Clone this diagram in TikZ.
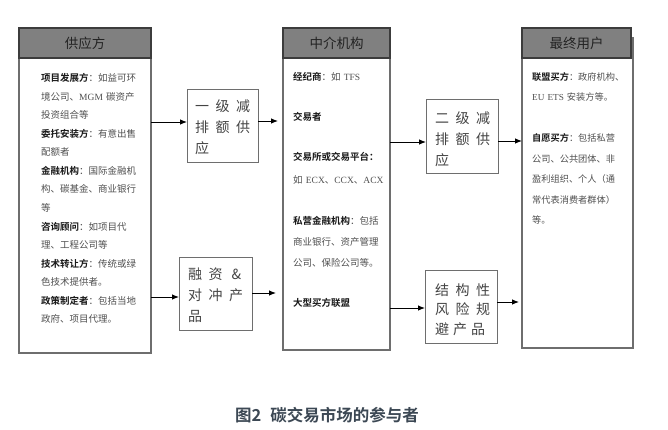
\documentclass[tikz,border=0pt]{standalone}
\usepackage{fontspec}
\setmainfont{Noto Sans CJK SC}[BoldFont={Noto Sans CJK SC Bold}]
\newfontfamily\lat{Liberation Serif}
\usetikzlibrary{arrows.meta}
\definecolor{hdrfill}{RGB}{128,128,128}
\definecolor{hdrline}{RGB}{60,60,60}
\definecolor{hdrtext}{RGB}{35,35,35}
\definecolor{boxgray}{RGB}{110,110,110}
\definecolor{txtgray}{RGB}{80,80,80}
\definecolor{lblblack}{RGB}{25,25,25}
\definecolor{capcol}{RGB}{60,72,84}
\newcommand{\lb}[1]{\textbf{\textcolor{lblblack}{#1}}}
\newcommand{\gp}{\hspace{6.5pt}}
\newcommand{\gq}{\hspace{4pt}}
\begin{document}
\begin{tikzpicture}[x=1pt,y=-1pt,
  bigbox/.style={draw=boxgray, line width=1.2pt, inner sep=0, outer sep=0, anchor=north west},
  hdrbox/.style={draw=hdrline, fill=hdrfill, line width=1.2pt, inner sep=0, outer sep=0, anchor=north west,
                 font=\fontsize{13.5}{16}\selectfont, text=hdrtext},
  smallbox/.style={draw=boxgray, line width=1pt, inner sep=0, outer sep=0, anchor=north west},
  body/.style={anchor=base west, inner sep=0, align=left, text width=112pt,
               font=\fontsize{9.5}{18.55}\selectfont, text=txtgray},
  stext/.style={anchor=base west, inner sep=0, align=left, text width=70pt,
               font=\fontsize{14}{21}\selectfont, text=txtgray!85!black},
  arr/.style={-{Latex[length=7pt,width=5.5pt]}, line width=0.9pt, black}
]
\fill[white] (0,0) rectangle (668,429);
\useasboundingbox (0,0) rectangle (668,429);

% big boxes
\node[bigbox, minimum width=132pt, minimum height=325pt] (b1) at (19,28) {};
\node[hdrbox, minimum width=132pt, minimum height=30pt] (h1) at (19,28) {供应方};
\node[bigbox, minimum width=107pt, minimum height=322pt] (b4) at (283,28) {};
\node[hdrbox, minimum width=107pt, minimum height=30pt] (h4) at (283,28) {中介机构};
\node[bigbox, minimum width=111pt, minimum height=310pt] (b7) at (522,38) {};
\node[hdrbox, minimum width=109pt, minimum height=30pt] (h7) at (522,28) {最终用户};

% small boxes
\node[smallbox, minimum width=71pt, minimum height=73pt] (b2) at (187,89) {};
\node[smallbox, minimum width=73pt, minimum height=73pt] (b3) at (179,257) {};
\node[smallbox, minimum width=72pt, minimum height=74pt] (b5) at (426,99) {};
\node[smallbox, minimum width=72pt, minimum height=73pt] (b6) at (425,270) {};

% box texts
\node[body] (t1) at (41,81.6) {\lb{项目发展方}：如益可环\\境公司、{\lat MGM} 碳资产\\投资组合等\\
\lb{委托安装方}：有意出售\\配额者\\
\lb{金融机构}：国际金融机\\构、碳基金、商业银行\\等\\
\lb{咨询顾问}：如项目代\\理、工程公司等\\
\lb{技术转让方}：传统或绿\\色技术提供者。\\
\lb{政策制定者}：包括当地\\政府、项目代理。};

\node[body] (m1) at (293,80.6) {\lb{经纪商}：如 {\lat TFS}};
\node[body] (m2) at (293,120.6) {\lb{交易者}};
\node[body, font=\fontsize{9.5}{23}\selectfont] (m3) at (293,160.6) {\lb{交易所或交易平台：}\\如 {\lat ECX}、{\lat CCX}、{\lat ACX}};
\node[body, font=\fontsize{9.5}{20.8}\selectfont] (m4) at (293,224.6) {\lb{私营金融机构}：包括\\商业银行、资产管理\\公司、保险公司等。};
\node[body] (m5) at (293,306.6) {\lb{大型买方联盟}};

\node[body, font=\fontsize{9.2}{20}\selectfont] (u1) at (532,80.6) {\lb{联盟买方}：政府机构、\\{\lat EU ETS} 安装方等。};
\node[body, font=\fontsize{9.2}{20.5}\selectfont] (u2) at (532,141.6) {\lb{自愿买方}：包括私营\\公司、公共团体、非\\盈利组织、个人（通\\常代表消费者群体）\\等。};

\node[stext] (s2) at (195,111.3) {一\gp 级\gp 减\\排\gp 额\gp 供\\应};
\node[stext] (s3) at (188,279.3) {融\gp 资\hspace{9pt}\&\\对\gp 冲\gp 产\\品};
\node[stext] (s5) at (435,123.3) {二\gp 级\gp 减\\排\gp 额\gp 供\\应};
\node[stext, font=\fontsize{14}{19.5}\selectfont] (s6) at (435,295.3) {结\gp 构\gp 性\\风\gp 险\gp 规\\避\gq 产\gq 品};

% caption
\node[inner sep=0, font=\fontsize{16.5}{20}\selectfont\bfseries, text=capcol] (cap) at (327,415) {图2\hspace{9pt}碳交易市场的参与者};

% connector rows
\coordinate (r1) at (0,122);
\coordinate (r2) at (0,297);
\coordinate (r3) at (0,121);
\coordinate (r4) at (0,293);
\coordinate (r5) at (0,142);
\coordinate (r6) at (0,308);
\coordinate (r7) at (0,141);
\coordinate (r8) at (0,302);

\draw[arr] (b1.east |- r1) -- (b2.west |- r1);
\draw[arr] (b1.east |- r2) -- (b3.west |- r2);
\draw[arr, shorten >=5pt] (b2.east |- r3) -- (b4.west |- r3);
\draw[arr, shorten >=7pt] (b3.east |- r4) -- (b4.west |- r4);
\draw[arr] (b4.east |- r5) -- (b5.west |- r5);
\draw[arr] (b4.east |- r6) -- (b6.west |- r6);
\draw[arr] (b5.east |- r7) -- (b7.west |- r7);
\draw[arr, shorten >=3pt] (b6.east |- r8) -- (b7.west |- r8);
\end{tikzpicture}
\end{document}
